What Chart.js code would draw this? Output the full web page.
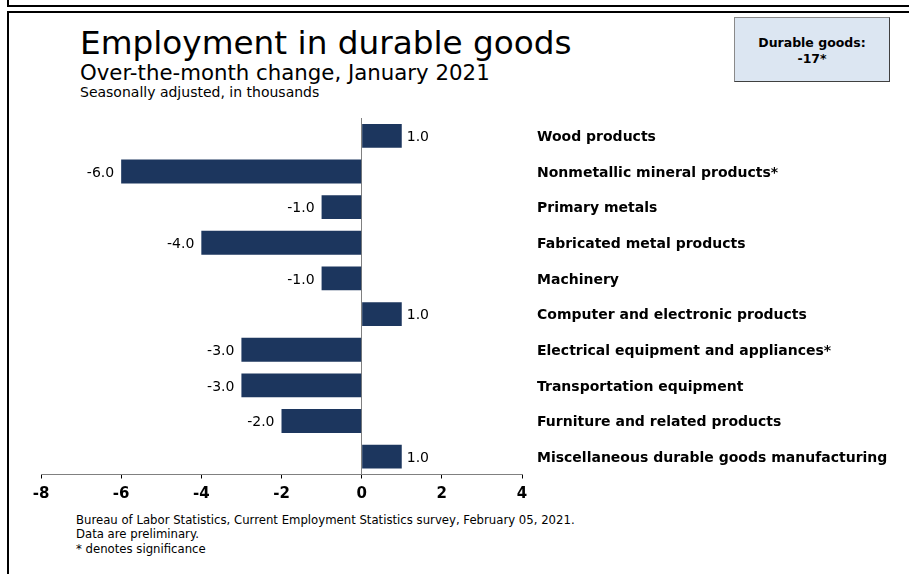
<!DOCTYPE html>
<html>
<head>
<meta charset="utf-8">
<script src="https://cdn.jsdelivr.net/npm/chart.js@4.4.1/dist/chart.umd.min.js"></script>
<style>
  html, body { margin: 0; padding: 0; background: #fff; }
  body { width: 909px; height: 574px; position: relative; overflow: hidden; }
  .rule { position: absolute; background: #000; }
  .head { font-family: "DejaVu Sans", sans-serif; color: #000; position: absolute; white-space: nowrap; }
  #title    { left: 80px; top: 27px; font-size: 32.7px; line-height: 32.7px; }
  #subtitle { left: 80px; top: 62px; font-size: 21.3px; line-height: 21.3px; }
  #units    { left: 80px; top: 85px; font-size: 14px; line-height: 14px; }
  #totalBox {
    position: absolute; left: 734px; top: 17px; width: 154px; height: 63px;
    background: #dce6f2; border: 1px solid #8a8a8a; border-right-color: #404040; border-bottom-color: #404040;
    font-family: "DejaVu Sans", sans-serif; font-weight: bold; font-size: 12.5px; line-height: 16px;
    text-align: center; box-sizing: content-box;
  }
  #totalBox div:first-child { margin-top: 17px; }
  #notes {
    position: absolute; left: 76px; top: 512.5px;
    font-family: "DejaVu Sans", sans-serif; font-size: 11.7px; line-height: 14.5px; color: #000;
  }
  #chartBox { position: absolute; left: 0; top: 100px; width: 909px; height: 406px; }
</style>
</head>
<body>
<!-- panel frame lines -->
<div class="rule" style="left:7px; top:0; width:2px; height:6px;"></div>
<div class="rule" style="left:7px; top:5px; width:902px; height:2px;"></div>
<div class="rule" style="left:7px; top:11px; width:902px; height:2px;"></div>
<div class="rule" style="left:7px; top:11px; width:2px; height:563px;"></div>

<div id="title" class="head">Employment in durable goods</div>
<div id="subtitle" class="head">Over-the-month change, January 2021</div>
<div id="units" class="head">Seasonally adjusted, in thousands</div>

<div id="totalBox"><div>Durable goods:</div><div>-17*</div></div>

<div id="chartBox"><canvas id="chart"></canvas></div>

<div id="notes">
  Bureau of Labor Statistics, Current Employment Statistics survey, February 05, 2021.<br>
  Data are preliminary.<br>
  * denotes significance
</div>

<script>
// ── Data ──────────────────────────────────────────────────────────────────────
const industries = [
  'Wood products',
  'Nonmetallic mineral products*',
  'Primary metals',
  'Fabricated metal products',
  'Machinery',
  'Computer and electronic products',
  'Electrical equipment and appliances*',
  'Transportation equipment',
  'Furniture and related products',
  'Miscellaneous durable goods manufacturing',
];
const changes = [1.0, -6.0, -1.0, -4.0, -1.0, 1.0, -3.0, -3.0, -2.0, 1.0];
const xTicks  = [-8, -6, -4, -2, 0, 2, 4];

const BAR_COLOR = '#1c365e';
const TEXT_DROP = 1.5; // text sits a touch below the bar centre

// value printed at the end of each bar
const barValueLabels = {
  id: 'barValueLabels',
  afterDatasetsDraw(chart) {
    const { ctx } = chart;
    const meta = chart.getDatasetMeta(0);
    const values = chart.data.datasets[0].data;
    ctx.save();
    ctx.font = "14px 'DejaVu Sans', sans-serif";
    ctx.fillStyle = '#000';
    ctx.textBaseline = 'middle';
    meta.data.forEach((bar, i) => {
      const v = values[i];
      if (v >= 0) {
        ctx.textAlign = 'left';
        ctx.fillText(v.toFixed(1), bar.x + 5, bar.y + TEXT_DROP);
      } else {
        ctx.textAlign = 'right';
        ctx.fillText(v.toFixed(1), bar.x - 7, bar.y + TEXT_DROP);
      }
    });
    ctx.restore();
  }
};

new Chart(document.getElementById('chart'), {
  type: 'bar',
  data: {
    labels: industries,
    datasets: [{
      data: changes,
      backgroundColor: BAR_COLOR,
      borderWidth: 0,
      barPercentage: 0.67,
      categoryPercentage: 1.0,
    }],
  },
  options: {
    indexAxis: 'y',
    responsive: true,
    maintainAspectRatio: false,
    animation: false,
    layout: { padding: { left: 41, top: 18, right: 0, bottom: 0 } },
    scales: {
      x: {
        min: xTicks[0],
        max: xTicks[xTicks.length - 1],
        afterBuildTicks: s => { s.ticks = xTicks.map(v => ({ value: v })); },
        afterFit: s => { s.height = 31.5; },
        border: { display: true, color: '#808080', width: 1 },
        grid: {
          color: c => (c.tick && c.tick.value === 0 ? '#808080' : 'rgba(0,0,0,0)'),
          tickColor: '#000',
          tickLength: 4,
          lineWidth: 1,
        },
        ticks: {
          color: '#000',
          padding: 6.5,
          font: { family: "'DejaVu Sans', sans-serif", size: 15, weight: 'bold' },
        },
      },
      y: {
        position: 'right',
        // fixed label column; drop the half-label padding so the plot starts at the layout top
        afterFit: s => { s.width = 387; s.paddingTop = 0; s.paddingBottom = 0; },
        border: { display: false },
        grid: { display: false, drawTicks: false },
        ticks: {
          color: '#000',
          padding: 15,
          crossAlign: 'near',
          labelOffset: TEXT_DROP,
          font: { family: "'DejaVu Sans', sans-serif", size: 14, weight: 'bold' },
        },
      },
    },
    plugins: {
      legend: { display: false },
      tooltip: { enabled: false },
    },
  },
  plugins: [barValueLabels],
});
</script>
</body>
</html>
